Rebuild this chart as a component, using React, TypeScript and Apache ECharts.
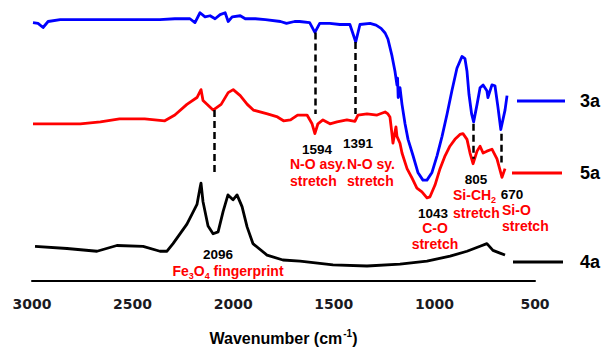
import React, { useEffect, useRef } from "react";
import * as echarts from "echarts";

// [wavenumber (cm-1), offset intensity (a.u.)]
const spectrum3a: [number, number][] = [
  [2995, 94.3], [2970, 94.0], [2945, 92.5], [2920, 94.7], [2860, 95.4], [2760, 95.4],
  [2660, 95.4], [2565, 95.4], [2465, 95.4], [2365, 95.4], [2290, 95.7], [2240, 95.7],
  [2215, 95.7], [2190, 94.3], [2165, 97.9], [2140, 96.4], [2115, 96.8], [2090, 95.7],
  [2065, 97.2], [2040, 97.9], [2025, 94.7], [2005, 96.4], [1965, 96.8], [1940, 95.7],
  [1890, 95.7], [1840, 95.4], [1765, 94.7], [1735, 94.0], [1695, 94.7], [1670, 94.7],
  [1620, 94.3], [1594, 90.7], [1570, 94.0], [1520, 94.0], [1470, 93.6], [1420, 93.6],
  [1391, 87.2], [1370, 93.6], [1320, 94.0], [1290, 93.4], [1265, 92.2], [1245, 90.5],
  [1231, 88.3], [1211, 82.2], [1196, 76.5], [1186, 71.5], [1183, 74.0], [1180, 66.9],
  [1171, 70.5], [1161, 64.4], [1146, 57.3], [1131, 51.6], [1106, 45.6], [1082, 39.5],
  [1057, 36.7], [1037, 36.7], [1012, 39.5], [987, 45.6], [962, 52.7], [937, 60.9],
  [913, 69.4], [888, 77.6], [863, 81.9], [848, 81.1], [838, 76.5], [828, 68.0],
  [815, 60.9], [805, 58.0], [788, 64.4], [773, 70.5], [758, 71.5], [739, 69.4],
  [734, 66.9], [714, 71.5], [699, 71.2], [684, 63.3], [670, 55.2], [649, 62.3],
  [639, 67.6],
];

const spectrum5a: [number, number][] = [
  [2995, 57.3], [2910, 57.3], [2760, 57.3], [2660, 58.0], [2565, 59.1], [2440, 59.1],
  [2340, 58.4], [2290, 60.5], [2230, 64.4], [2180, 66.9], [2160, 69.8], [2150, 65.8],
  [2100, 62.3], [2060, 64.4], [2025, 68.7], [2000, 69.8], [1965, 67.6], [1930, 64.4],
  [1900, 62.3], [1830, 60.9], [1780, 59.8], [1750, 58.4], [1715, 58.7], [1680, 60.5],
  [1633, 60.5], [1608, 57.3], [1594, 53.7], [1579, 57.3], [1554, 58.7], [1519, 57.3],
  [1484, 58.0], [1435, 58.7], [1395, 58.2], [1380, 60.5], [1335, 60.9], [1285, 60.5],
  [1245, 61.6], [1231, 60.9], [1221, 59.8], [1211, 53.7], [1206, 50.2], [1191, 56.2],
  [1186, 52.7], [1171, 50.2], [1161, 46.6], [1136, 40.9], [1111, 37.4], [1087, 33.8],
  [1062, 32.4], [1037, 30.2], [1022, 30.6], [997, 34.9], [972, 40.9], [947, 45.6],
  [923, 49.1], [898, 51.6], [873, 53.4], [858, 53.7], [838, 51.6], [823, 46.6],
  [808, 42.7], [788, 47.3], [773, 49.1], [758, 46.6], [739, 47.3], [714, 48.0],
  [689, 44.5], [664, 37.7], [649, 40.9],
];

const spectrum4a: [number, number][] = [
  [2985, 12.5], [2826, 11.7], [2677, 10.7], [2578, 12.8], [2448, 12.5], [2364, 10.7],
  [2329, 10.7], [2299, 13.5], [2230, 20.6], [2180, 27.8], [2165, 33.8], [2160, 35.6],
  [2150, 28.8], [2125, 19.9], [2100, 17.1], [2075, 17.8], [2050, 25.3], [2026, 31.3],
  [2001, 29.5], [1981, 31.3], [1956, 27.0], [1931, 19.6], [1902, 13.5], [1832, 9.3],
  [1753, 7.5], [1668, 7.1], [1504, 5.7], [1335, 5.3], [1171, 6.0], [1037, 7.1],
  [922, 8.9], [838, 10.7], [773, 12.5], [739, 13.5], [709, 11.0], [674, 10.0],
  [649, 9.3],
];

// dashed guide lines: wavenumber, upper and lower intensity
const guideWavenumbers = [2096, 1594, 1391, 805, 670];
const guideTop = [62.3, 90.7, 87.2, 57.3, 53.7];
const guideBottom = [38.4, 60.9, 60.9, 44.5, 43.1];

const axisMin = 500;
const axisMax = 3000;
const axisStep = 500;

const seriesNames = ["3a", "5a", "4a"];
const seriesColors = ["#0000ff", "#ff0000", "#000000"];

const ARIAL = 'Arial, "Liberation Sans", sans-serif';

export default function App() {
  const ref = useRef<HTMLDivElement>(null);

  useEffect(() => {
    const chart = echarts.init(ref.current!, null, { renderer: "svg" });
    const data = [spectrum3a, spectrum5a, spectrum4a];

    const numText = (text: string, x: number, y: number) => ({
      type: "text",
      x,
      y,
      silent: true,
      style: {
        text,
        fill: "#000",
        font: `bold 13.5px ${ARIAL}`,
        textAlign: "center",
        textVerticalAlign: "middle",
      },
    });
    const redText = (text: string, x: number, y: number, align: string, lineHeight: number) => ({
      type: "text",
      x,
      y,
      silent: true,
      style: {
        text,
        fill: "#ff0000",
        fontFamily: ARIAL,
        fontWeight: "bold",
        fontSize: 14,
        lineHeight,
        textAlign: align,
        textVerticalAlign: "top",
        rich: {
          sub: { fontSize: 9, fontWeight: "bold", fontFamily: ARIAL, fill: "#ff0000", padding: [9, 0, 0, 0], lineHeight },
        },
      },
    });

    const legendYs = [101, 173, 262];
    const legendX1 = [517, 512, 513];
    const legendX2 = [565, 562, 563];

    const graphic: any[] = [];
    seriesNames.forEach((name, i) => {
      graphic.push({
        type: "line",
        silent: true,
        shape: { x1: legendX1[i], y1: legendYs[i], x2: legendX2[i], y2: legendYs[i] },
        style: { stroke: seriesColors[i], lineWidth: 3 },
      });
      graphic.push({
        type: "text",
        x: 580,
        y: legendYs[i],
        silent: true,
        style: {
          text: name,
          fill: "#000",
          font: `bold 18px ${ARIAL}`,
          textAlign: "left",
          textVerticalAlign: "middle",
        },
      });
    });

    graphic.push(numText("1594", 317, 149));
    graphic.push(numText("1391", 358, 143));
    graphic.push(numText("1043", 433, 213));
    graphic.push(numText("805", 476, 179));
    graphic.push(numText("670", 512, 194));
    graphic.push(numText("2096", 218, 254));
    graphic.push(redText("N-O asy.\nstretch", 290, 155, "left", 17));
    graphic.push(redText("N-O sy.\nstretch", 347, 155, "left", 17));
    graphic.push(redText("C-O\nstretch", 435, 220, "center", 16));
    graphic.push(redText("Si-CH{sub|2}\nstretch", 453, 186, "left", 18));
    graphic.push(redText("Si-O\nstretch", 502, 202, "left", 16));
    graphic.push(redText("Fe{sub|3}O{sub|4} fingerprint", 228, 262, "center", 18));

    chart.setOption({
      animation: false,
      backgroundColor: "#ffffff",
      grid: { left: 32, right: 68, top: 7, bottom: 63, containLabel: false },
      xAxis: {
        type: "value",
        min: axisMin,
        max: axisMax,
        interval: axisStep,
        inverse: true,
        name: "Wavenumber (cm{sup|-1})",
        nameLocation: "middle",
        nameGap: 48,
        nameTextStyle: {
          fontFamily: ARIAL,
          fontWeight: "bold",
          fontSize: 16,
          color: "#000",
          rich: {
            sup: { fontFamily: ARIAL, fontWeight: "bold", fontSize: 10, color: "#000", padding: [0, 0, 9, 1] },
          },
        },
        axisLine: { show: true, onZero: false, lineStyle: { color: "#000", width: 2 } },
        axisTick: { show: false },
        splitLine: { show: false },
        axisLabel: {
          margin: 16,
          formatter: (v: number) => String(v),
          fontFamily: '"DejaVu Sans", sans-serif',
          fontWeight: "bold",
          fontSize: 14,
          color: "#1a1a22",
        },
      },
      yAxis: { type: "value", min: 0, max: 100, show: false },
      series: data.map((d, i) => ({
        name: seriesNames[i],
        type: "line",
        data: d,
        showSymbol: false,
        symbol: "none",
        smooth: false,
        lineStyle: { color: seriesColors[i], width: 2.8, join: "round" },
        z: 3 - i,
        markLine:
          i === 2
            ? {
                silent: true,
                symbol: "none",
                label: { show: false },
                lineStyle: { color: "#000", width: 2.5, type: [7, 4] },
                data: guideWavenumbers.map((wn, k) => [
                  { coord: [wn, guideTop[k]] },
                  { coord: [wn, guideBottom[k]] },
                ]),
              }
            : undefined,
      })),
      graphic,
    });
    return () => chart.dispose();
  }, []);

  return (
    <div
      ref={ref}
      style={{ width: 603, height: 351, position: "fixed", left: 0, top: 0, background: "#fff" }}
    />
  );
}
